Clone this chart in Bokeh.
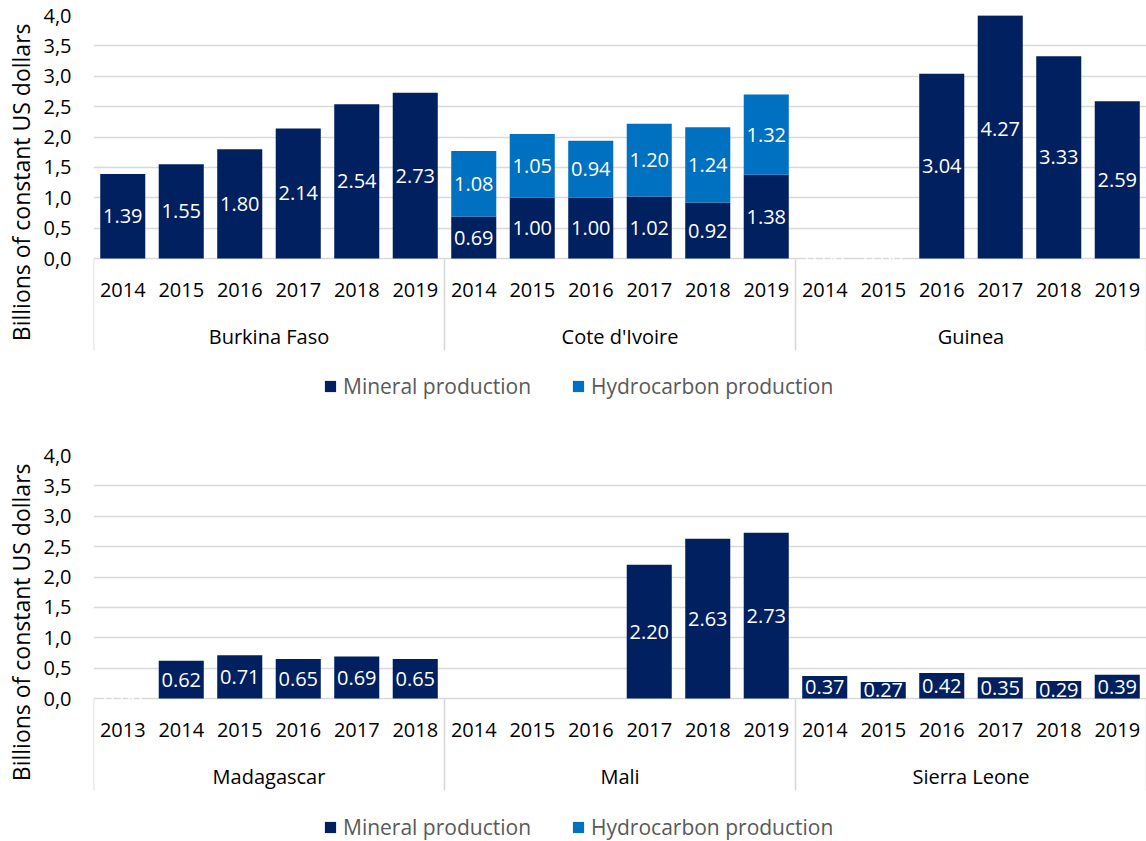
from bokeh.plotting import figure
from bokeh.models import (ColumnDataSource, Range1d, FixedTicker, Legend, LegendItem,
                          CustomJSTickFormatter, Title)
from bokeh.layouts import column
from bokeh.core.properties import value
from bokeh.embed import file_html
from bokeh.resources import INLINE

# ---------------- data ----------------
top_countries = ["Burkina Faso", "Cote d'Ivoire", "Guinea"]
burkina_years = ["2014", "2015", "2016", "2017", "2018", "2019"]
burkina_mineral = [1.39, 1.55, 1.80, 2.14, 2.54, 2.73]
burkina_hydro = [None, None, None, None, None, None]
cote_years = ["2014", "2015", "2016", "2017", "2018", "2019"]
cote_mineral = [0.69, 1.00, 1.00, 1.02, 0.92, 1.38]
cote_hydro = [1.08, 1.05, 0.94, 1.20, 1.24, 1.32]
guinea_years = ["2014", "2015", "2016", "2017", "2018", "2019"]
guinea_mineral = [0.00, 0.00, 3.04, 4.27, 3.33, 2.59]
guinea_hydro = [None, None, None, None, None, None]

bottom_countries = ["Madagascar", "Mali", "Sierra Leone"]
madagascar_years = ["2013", "2014", "2015", "2016", "2017", "2018"]
madagascar_mineral = [0.00, 0.62, 0.71, 0.65, 0.69, 0.65]
madagascar_hydro = [None, None, None, None, None, None]
mali_years = ["2014", "2015", "2016", "2017", "2018", "2019"]
mali_mineral = [None, None, None, 2.20, 2.63, 2.73]
mali_hydro = [None, None, None, None, None, None]
sierra_years = ["2014", "2015", "2016", "2017", "2018", "2019"]
sierra_mineral = [0.37, 0.27, 0.42, 0.35, 0.29, 0.39]
sierra_hydro = [None, None, None, None, None, None]

series_names = ["Mineral production", "Hydrocarbon production"]
y_ticks = [0.0, 0.5, 1.0, 1.5, 2.0, 2.5, 3.0, 3.5, 4.0]
y_title = "Billions of constant US dollars"

# ---------------- style ----------------
MINERAL_COLOR = "#002060"
HYDRO_COLOR = "#0070C0"
GRID = "#D9D9D9"
FONT = "Open Sans"
FS = "20px"
PX_PER_UNIT = 60.75
Y_MAX = 4.0
SEP_BOTTOM = -92 / PX_PER_UNIT
YEAR_Y = -31 / PX_PER_UNIT
COUNTRY_Y = -78 / PX_PER_UNIT
BAR_W = 0.77
TOP_BORDER = 15
LEFT_BORDER = 93
WIDTH = 1146
LEGEND_LEFT = 230


def make_chart(countries, years, mineral, hydro, height, border_bottom):
    xs, yrs, m_top, h_top = [], [], [], []
    ml_x, ml_y, ml_t = [], [], []
    hl_x, hl_y, hl_t = [], [], []
    bounds = [0]
    centers = []
    idx = 0
    for ys, ms, hs in zip(years, mineral, hydro):
        start = idx
        for yv, m, h in zip(ys, ms, hs):
            xc = idx + 0.5
            m0 = m if m is not None else 0.0
            h0 = h if h is not None else 0.0
            xs.append(xc)
            yrs.append(yv)
            m_top.append(m0)
            h_top.append(m0 + h0)
            if m is not None:
                ml_x.append(xc); ml_y.append(m / 2); ml_t.append("%.2f" % m)
            if h is not None:
                hl_x.append(xc); hl_y.append(m0 + h / 2); hl_t.append("%.2f" % h)
            idx += 1
        bounds.append(idx)
        centers.append((start + idx) / 2)
    n = idx

    frame_h = height - TOP_BORDER - border_bottom
    y_start = Y_MAX - frame_h / PX_PER_UNIT

    p = figure(width=WIDTH, height=height, output_backend="svg", toolbar_location=None,
               x_range=Range1d(0, n), y_range=Range1d(y_start, Y_MAX),
               x_axis_location=None, min_border_left=LEFT_BORDER, min_border_right=0,
               min_border_top=TOP_BORDER, min_border_bottom=border_bottom,
               outline_line_color=None, background_fill_color="white")
    p.xgrid.visible = False
    p.ygrid.ticker = FixedTicker(ticks=y_ticks)
    p.ygrid.grid_line_color = GRID
    p.ygrid.grid_line_width = 1.6

    ax = p.yaxis[0]
    ax.ticker = FixedTicker(ticks=y_ticks)
    ax.formatter = CustomJSTickFormatter(code="return tick.toFixed(1).replace('.', ',');")
    ax.axis_line_color = None
    ax.major_tick_line_color = None
    ax.minor_tick_line_color = None
    ax.major_tick_out = 0
    ax.major_tick_in = 0
    ax.minor_tick_out = 0
    ax.major_label_standoff = 22
    ax.major_label_text_font = FONT
    ax.major_label_text_font_size = FS
    ax.major_label_text_color = "black"

    # y title on the left, its top end a few pixels below the frame top
    p.add_layout(Title(text=y_title, align="right", offset=8, vertical_align="middle",
                       standoff=5, text_font=FONT, text_font_size="23px",
                       text_font_style="normal", text_color="black"), "left")

    src = ColumnDataSource(dict(x=xs, m=m_top, ht=h_top))
    r_m = p.vbar(x="x", width=BAR_W, bottom=0, top="m", source=src,
                 fill_color=MINERAL_COLOR, line_color=None)
    r_h = p.vbar(x="x", width=BAR_W, bottom="m", top="ht", source=src,
                 fill_color=HYDRO_COLOR, line_color=None)

    # category separators below the axis
    p.segment(x0=bounds, y0=[0] * len(bounds), x1=bounds, y1=[SEP_BOTTOM] * len(bounds),
              line_color=GRID, line_width=1.6)

    # data labels
    p.text(x=ml_x, y=ml_y, text=ml_t, text_color="white", text_font=value(FONT),
           text_font_size=FS, text_align="center", text_baseline="middle")
    if hl_x:
        p.text(x=hl_x, y=hl_y, text=hl_t, text_color="white", text_font=value(FONT),
               text_font_size=FS, text_align="center", text_baseline="middle")

    # category labels
    p.text(x=xs, y=[YEAR_Y] * n, text=yrs, text_color="black", text_font=value(FONT),
           text_font_size=FS, text_align="center", text_baseline="middle")
    p.text(x=centers, y=[COUNTRY_Y] * len(centers), text=countries, text_color="black",
           text_font=value(FONT), text_font_size=FS, text_align="center",
           text_baseline="middle")

    legend = Legend(items=[LegendItem(label=series_names[0], renderers=[r_m]),
                           LegendItem(label=series_names[1], renderers=[r_h])],
                    location=(LEGEND_LEFT, 0), orientation="horizontal",
                    margin=0, padding=0, spacing=40, glyph_width=14, glyph_height=14,
                    label_standoff=6, label_text_font=FONT, label_text_font_size="21px",
                    label_text_color="#595959", background_fill_alpha=0,
                    border_line_alpha=0)
    p.add_layout(legend)
    return p


p1 = make_chart(top_countries,
                [burkina_years, cote_years, guinea_years],
                [burkina_mineral, cote_mineral, guinea_mineral],
                [burkina_hydro, cote_hydro, guinea_hydro],
                height=440, border_bottom=40)
p2 = make_chart(bottom_countries,
                [madagascar_years, mali_years, sierra_years],
                [madagascar_mineral, mali_mineral, sierra_mineral],
                [madagascar_hydro, mali_hydro, sierra_hydro],
                height=401, border_bottom=0)

p = column(p1, p2, spacing=0)
open("out.html", "w").write(file_html(p, INLINE))
